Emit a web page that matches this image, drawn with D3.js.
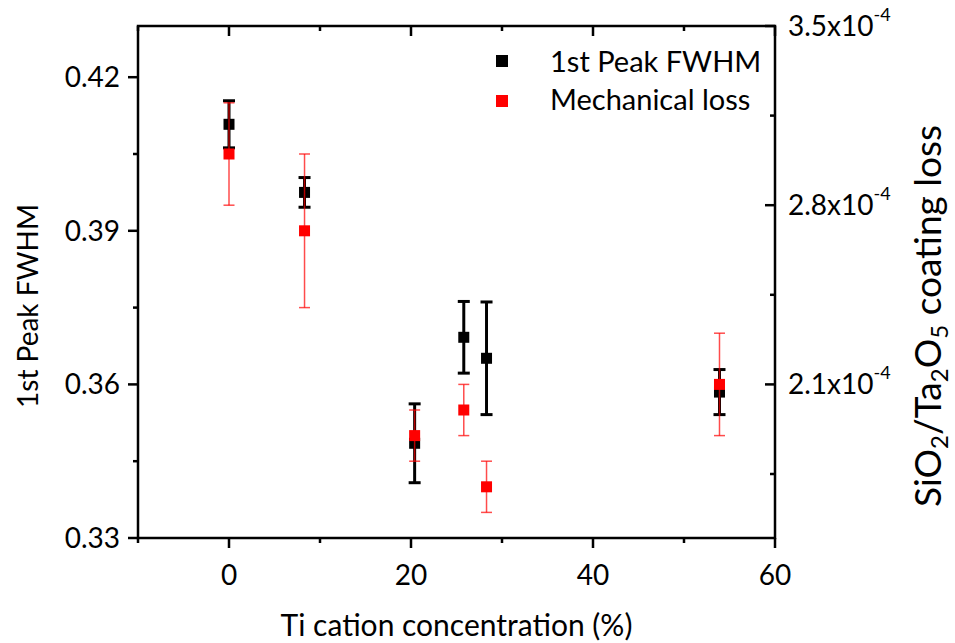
<!DOCTYPE html>
<html>
<head>
<meta charset="utf-8">
<script src="https://cdn.jsdelivr.net/npm/d3@7"></script>
<style>
  body { margin: 0; background: #fff; }
  svg { font-family: Lato, "Open Sans", sans-serif; }
</style>
</head>
<body>
<div id="chart"></div>
<script>
// Ti cation concentration (%)
const conc = [0, 8.3, 20.4, 25.8, 28.3, 53.9];
// 1st peak FWHM, left axis
const fwhm = [0.4108, 0.3975, 0.3485, 0.3692, 0.3651, 0.3585];
const fwhmErr = [0.0046, 0.0029, 0.0077, 0.0070, 0.0110, 0.0044];
// mechanical loss, right axis
const loss = [3.0e-4, 2.7e-4, 1.9e-4, 2.0e-4, 1.7e-4, 2.1e-4];
const lossErr = [0.2e-4, 0.3e-4, 0.1e-4, 0.1e-4, 0.1e-4, 0.2e-4];

const xTicks = [0, 20, 40, 60];
const xMinor = [-10, 10, 30, 50];
const yTicks = [0.33, 0.36, 0.39, 0.42];
const yMinor = [0.345, 0.375, 0.405];
const y2Ticks = [2.1e-4, 2.8e-4, 3.5e-4];
const y2Minor = [1.75e-4, 2.45e-4, 3.15e-4];
const legendNames = ["1st Peak FWHM", "Mechanical loss"];

const width = 955, height = 643;
const margin = {top: 26, right: 180, bottom: 105, left: 138};

let svg = d3.select("#chart").append("svg")
    .attr("width", width)
    .attr("height", height);

let x = d3.scaleLinear().domain([-10, 60]).range([margin.left, width - margin.right]);
let y = d3.scaleLinear().domain([0.33, 0.43]).range([height - margin.bottom, margin.top]);
let y2 = d3.scaleLinear().domain([1.5e-4, 3.5e-4]).range([height - margin.bottom, margin.top]);

let x0 = margin.left, x1 = width - margin.right;
let yTop = margin.top, yBot = height - margin.bottom;

// frame + ticks
let axes = svg.append("g").attr("stroke", "#000").attr("stroke-width", 2.5);

axes.append("rect")
    .attr("x", x0).attr("y", yTop)
    .attr("width", x1 - x0).attr("height", yBot - yTop)
    .attr("fill", "none");

// bottom (outward) and top (inward)
xTicks.forEach(t => {
    axes.append("line").attr("x1", x(t)).attr("x2", x(t)).attr("y1", yBot).attr("y2", yBot + 10);
    axes.append("line").attr("x1", x(t)).attr("x2", x(t)).attr("y1", yTop).attr("y2", yTop + 10);
});
xMinor.forEach(t => {
    axes.append("line").attr("x1", x(t)).attr("x2", x(t)).attr("y1", yBot).attr("y2", yBot + 5);
    axes.append("line").attr("x1", x(t)).attr("x2", x(t)).attr("y1", yTop).attr("y2", yTop + 5);
});
// left (outward)
yTicks.forEach(t => {
    axes.append("line").attr("x1", x0 - 10).attr("x2", x0).attr("y1", y(t)).attr("y2", y(t));
});
yMinor.forEach(t => {
    axes.append("line").attr("x1", x0 - 5).attr("x2", x0).attr("y1", y(t)).attr("y2", y(t));
});
// right (inward)
y2Ticks.forEach(t => {
    axes.append("line").attr("x1", x1 - 10).attr("x2", x1).attr("y1", y2(t)).attr("y2", y2(t));
});
y2Minor.forEach(t => {
    axes.append("line").attr("x1", x1 - 5).attr("x2", x1).attr("y1", y2(t)).attr("y2", y2(t));
});

// tick labels
svg.append("g").selectAll("text")
    .data(xTicks)
    .join("text")
    .attr("x", d => x(d))
    .attr("y", yBot + 47)
    .attr("text-anchor", "middle")
    .attr("font-size", 28)
    .text(d => d);

svg.append("g").selectAll("text")
    .data(yTicks)
    .join("text")
    .attr("x", x0 - 18)
    .attr("y", d => y(d) + 10)
    .attr("text-anchor", "end")
    .attr("font-size", 28)
    .text(d => d.toFixed(2));

let y2Labels = svg.append("g").selectAll("text")
    .data(y2Ticks)
    .join("text")
    .attr("x", x1 + 13)
    .attr("y", d => y2(d) + 10)
    .attr("font-size", 28);
y2Labels.append("tspan").text(d => (d * 1e4).toFixed(1) + "x10");
y2Labels.append("tspan").attr("dy", -15).attr("font-size", 18).text("-4");

// axis titles
svg.append("text")
    .attr("x", (x0 + x1) / 2)
    .attr("y", 636)
    .attr("text-anchor", "middle")
    .attr("font-size", 30)
    .text("Ti cation concentration (%)");

svg.append("text")
    .attr("transform", `translate(38, 306) rotate(-90)`)
    .attr("text-anchor", "middle")
    .attr("font-size", 28)
    .text("1st Peak FWHM");

let rTitle = svg.append("text")
    .attr("transform", `translate(941, 316) rotate(-90)`)
    .attr("text-anchor", "middle")
    .attr("font-size", 37);
rTitle.append("tspan").text("SiO");
rTitle.append("tspan").attr("font-size", 24).attr("dy", 7).text("2");
rTitle.append("tspan").attr("dy", -7).text("/Ta");
rTitle.append("tspan").attr("font-size", 24).attr("dy", 7).text("2");
rTitle.append("tspan").attr("dy", -7).text("O");
rTitle.append("tspan").attr("font-size", 24).attr("dy", 7).text("5");
rTitle.append("tspan").attr("dy", -7).text(" coating loss");

// error bars + markers
function drawSeries(vals, errs, scale, color, lw, cap, op) {
    let g = svg.append("g");
    let pts = conc.map((c, i) => ({c: c, v: vals[i], e: errs[i]}));
    let eb = g.append("g").attr("stroke", color).attr("stroke-width", lw).attr("stroke-opacity", op);
    eb.selectAll(".v").data(pts).join("line")
        .attr("x1", d => x(d.c)).attr("x2", d => x(d.c))
        .attr("y1", d => scale(d.v + d.e)).attr("y2", d => scale(d.v - d.e));
    eb.selectAll(".t").data(pts).join("line")
        .attr("x1", d => x(d.c) - cap / 2).attr("x2", d => x(d.c) + cap / 2)
        .attr("y1", d => scale(d.v + d.e)).attr("y2", d => scale(d.v + d.e));
    eb.selectAll(".b").data(pts).join("line")
        .attr("x1", d => x(d.c) - cap / 2).attr("x2", d => x(d.c) + cap / 2)
        .attr("y1", d => scale(d.v - d.e)).attr("y2", d => scale(d.v - d.e));
    g.selectAll("rect").data(pts).join("rect")
        .attr("x", d => x(d.c) - 5.5).attr("y", d => scale(d.v) - 5.5)
        .attr("width", 11).attr("height", 11)
        .attr("fill", color);
}
drawSeries(fwhm, fwhmErr, y, "#000", 3, 12, 1);
drawSeries(loss, lossErr, y2, "#ff0000", 1.5, 11, 0.7);

// legend
let legend = svg.append("g");
legend.selectAll("rect").data(legendNames).join("rect")
    .attr("x", 496).attr("y", (d, i) => 55 + i * 40)
    .attr("width", 12).attr("height", 12)
    .attr("fill", (d, i) => i === 0 ? "#000" : "#ff0000");
legend.selectAll("text").data(legendNames).join("text")
    .attr("x", 550).attr("y", (d, i) => 72 + i * 38)
    .attr("font-size", 29)
    .text(d => d);
</script>
</body>
</html>
